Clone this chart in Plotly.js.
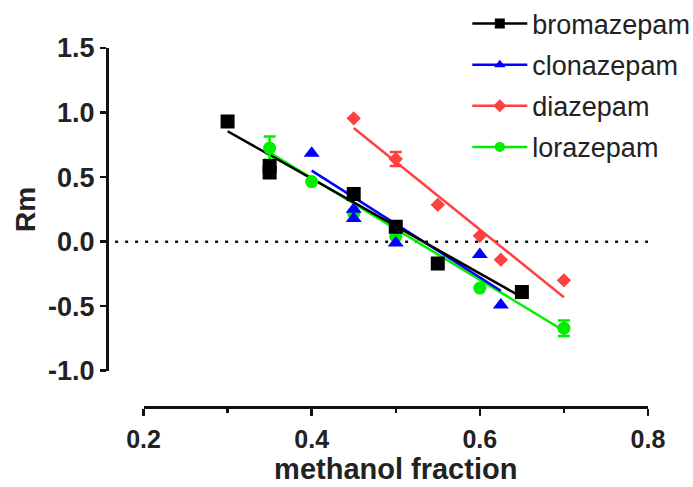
<!DOCTYPE html>
<html>
<head>
<meta charset="utf-8">
<script src="https://cdn.plot.ly/plotly-3.0.1.min.js"></script>
<style>html,body{margin:0;padding:0;background:#fff;}#chart{width:693px;height:487px;}</style>
</head>
<body>
<div id="chart"></div>
<script>
// ---- data ----
const seriesNames = ["bromazepam", "clonazepam", "diazepam", "lorazepam"];

const bromX = [0.30, 0.35, 0.35, 0.45, 0.50, 0.55, 0.65];
const bromY = [0.93, 0.585, 0.535, 0.37, 0.115, -0.17, -0.39];
const bromFitX = [0.30, 0.65];
const bromFitY = [0.855, -0.43];

const cloX = [0.40, 0.45, 0.45, 0.50, 0.60, 0.625];
const cloY = [0.685, 0.25, 0.18, -0.01, -0.10, -0.49];
const cloFitX = [0.40, 0.625];
const cloFitY = [0.55, -0.38];

const diaX = [0.45, 0.50, 0.55, 0.60, 0.625, 0.70];
const diaY = [0.955, 0.64, 0.285, 0.045, -0.14, -0.30];
const diaErr = [0, 0.055, 0, 0, 0, 0];
const diaFitX = [0.45, 0.70];
const diaFitY = [0.88, -0.43];

const lorX = [0.35, 0.40, 0.45, 0.50, 0.60, 0.70];
const lorY = [0.725, 0.465, 0.22, 0.04, -0.36, -0.67];
const lorErr = [0.09, 0, 0, 0, 0, 0.06];
const lorFitX = [0.35, 0.70];
const lorFitY = [0.69, -0.69];

const xTickVals = [0.2, 0.4, 0.6, 0.8];
const xTickText = ["0.2", "0.4", "0.6", "0.8"];
const xMinorVals = [0.3, 0.5, 0.7];
const yTickVals = [-1.0, -0.5, 0.0, 0.5, 1.0, 1.5];
const yTickText = ["-1.0", "-0.5", "0.0", "0.5", "1.0", "1.5"];

// ---- styles ----
const colors = ["#000000", "#0000ff", "#ff4040", "#00ee00"];
const symbols = ["square", "triangle-up", "diamond", "circle"];
const sizes = [14, 14, 11, 13];
const FONT = "Liberation Sans, Arial, sans-serif";

const pts = [[bromX, bromY, null], [cloX, cloY, null], [diaX, diaY, diaErr], [lorX, lorY, lorErr]];
const fits = [[bromFitX, bromFitY], [cloFitX, cloFitY], [diaFitX, diaFitY], [lorFitX, lorFitY]];

const traces = [];
// legend entries first (line + marker), no data of their own
for (let i = 0; i < 4; i++) {
  traces.push({
    x: [null], y: [null], type: "scatter", mode: "lines+markers", name: seriesNames[i],
    line: {color: colors[i], width: 2.5},
    marker: {color: colors[i], symbol: symbols[i], size: 10},
    legendgroup: seriesNames[i]
  });
}
// draw order: lorazepam at the bottom, bromazepam on top
const order = [3, 2, 1, 0];
for (const i of order) {
  traces.push({
    x: fits[i][0], y: fits[i][1], type: "scatter", mode: "lines",
    line: {color: colors[i], width: 2.5}, showlegend: false, hoverinfo: "skip",
    legendgroup: seriesNames[i]
  });
}
for (const i of order) {
  const t = {
    x: pts[i][0], y: pts[i][1], type: "scatter", mode: "markers",
    marker: {color: colors[i], symbol: symbols[i], size: sizes[i]},
    showlegend: false, legendgroup: seriesNames[i]
  };
  if (pts[i][2]) {
    t.error_y = {type: "data", array: pts[i][2], visible: true, color: colors[i], thickness: 2.5, width: 6};
  }
  traces.push(t);
}

const layout = {
  width: 693, height: 487,
  paper_bgcolor: "#ffffff", plot_bgcolor: "#ffffff",
  margin: {l: 107, r: 45, t: 48, b: 80, autoexpand: false},
  showlegend: true,
  legend: {
    x: 0.666, y: 1.135, xanchor: "left", yanchor: "top",
    font: {family: FONT, size: 27, color: "#222"},
    itemwidth: 55, tracegroupgap: 3, bgcolor: "rgba(0,0,0,0)", traceorder: "grouped"
  },
  xaxis: {
    domain: [0.0675, 1], range: [0.2, 0.8], anchor: "free", position: 0,
    showgrid: false, zeroline: false, showline: true, linecolor: "#111", linewidth: 3,
    ticks: "outside", ticklen: 7, tickwidth: 2.5, tickcolor: "#111",
    tickvals: xTickVals, ticktext: xTickText, ticklabelstandoff: 2,
    minor: {tickvals: xMinorVals, ticks: "outside", ticklen: 4, tickwidth: 2.5, tickcolor: "#111", showgrid: false},
    tickfont: {family: FONT, size: 25, color: "#222", weight: "bold"},
    title: {text: "methanol fraction", font: {family: FONT, size: 29, color: "#222", weight: "bold"}, standoff: 4}
  },
  yaxis: {
    domain: [0.101, 1], range: [-1.0, 1.5], anchor: "free", position: 0,
    showgrid: false, zeroline: false, showline: true, linecolor: "#111", linewidth: 3,
    ticks: "outside", ticklen: 6, tickwidth: 2.5, tickcolor: "#111",
    tickvals: yTickVals, ticktext: yTickText,
    tickfont: {family: FONT, size: 27, color: "#222", weight: "bold"},
    title: {text: "Rm", font: {family: FONT, size: 28, color: "#222", weight: "bold"}, standoff: 3}
  },
  shapes: [{
    type: "line", xref: "paper", yref: "y", x0: 0.015, x1: 1, y0: 0, y1: 0,
    line: {color: "#111", width: 2.5, dash: "3px,7px"}, layer: "below"
  }]
};

Plotly.newPlot("chart", traces, layout, {displayModeBar: false, staticPlot: true});
</script>
</body>
</html>
